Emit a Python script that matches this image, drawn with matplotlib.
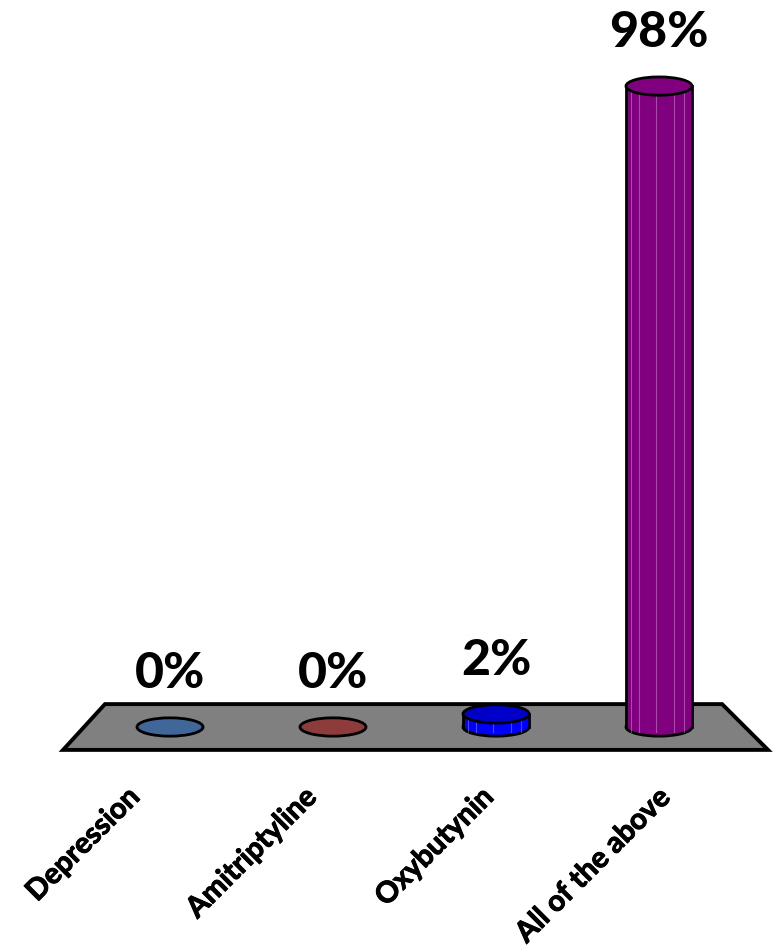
import matplotlib.pyplot as plt
import matplotlib.patheffects as pe
from matplotlib.patches import Ellipse, Rectangle, Polygon

categories = ['Depression', 'Amitriptyline', 'Oxybutynin', 'All of the above']
values = [0, 0, 2, 98]
labels = ['0%', '0%', '2%', '98%']
side_colors = ['#41679A', '#8E3B3B', '#0000FF', '#800080']
top_colors = ['#41679A', '#8E3B3B', '#0000C8', '#800080']

plt.rcParams['font.family'] = ['Lato', 'DejaVu Sans']

fig = plt.figure(figsize=(7.75, 9.51), dpi=100)
ax = fig.add_axes([0, 0, 1, 1])
# 1 x unit = 163 px, 1 % = 6.54 px, category 0 at 170 px, base at 224 px from bottom
ax.set_xlim(-170 / 163, (775 - 170) / 163)
ax.set_ylim(-224 / 6.54, (951 - 224) / 6.54)
ax.axis('off')

# grey floor
floor = Polygon([(-0.656, -3.5), (3.669, -3.5), (3.387, 3.5), (-0.399, 3.5)],
                closed=True, facecolor='#808080', edgecolor='black', linewidth=2.8, zorder=1)
ax.add_patch(floor)

bw = 0.405   # cylinder width in x units
eh = 2.8     # ellipse height in % units

for i, (v, sc, tc) in enumerate(zip(values, side_colors, top_colors)):
    if v > 0:
        ax.add_patch(Ellipse((i, 0), bw, eh, facecolor=sc, edgecolor='black', linewidth=2, zorder=2))
        ax.add_patch(Rectangle((i - bw / 2, 0), bw, v, facecolor=sc, edgecolor='none', zorder=3))
        for f in [0.08, 0.2, 0.45, 0.72, 0.88]:
            ax.plot([i - bw / 2 + f * bw] * 2, [0 - eh / 2 * 0.6, v], color='white', alpha=0.3,
                    linewidth=0.8, zorder=3.5)
        ax.plot([i - bw / 2] * 2, [0, v], color='black', linewidth=2, zorder=4)
        ax.plot([i + bw / 2] * 2, [0, v], color='black', linewidth=2, zorder=4)
    ax.add_patch(Ellipse((i, v), bw, eh, facecolor=tc, edgecolor='black', linewidth=2, zorder=5))
    ax.annotate(labels[i], (i, v), xytext=(0, 28), textcoords='offset points',
                ha='center', va='baseline', fontsize=36, fontweight='black', zorder=6)

# category labels, rotated 45 degrees, spread a bit wider to follow the floor front edge
thick = [pe.withStroke(linewidth=0.7, foreground='black')]
for i, c in enumerate(categories):
    x = i + (-44 + 14 * i) / 163
    ax.text(x, -8.7, c, rotation=45, rotation_mode='anchor', ha='right', va='top',
            fontsize=21, fontweight='bold', path_effects=thick)

fig.savefig('out.png', dpi=100)
